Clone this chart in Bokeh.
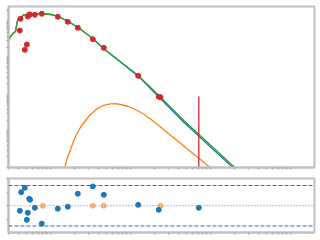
import numpy as np
from bokeh.plotting import figure
from bokeh.layouts import column
from bokeh.models import FixedTicker, Range1d, Span
from bokeh.embed import file_html
from bokeh.resources import INLINE

# ---- data ----
data_x = [0.413, 0.422, 0.477, 0.506, 0.520, 0.542, 0.551, 0.637, 0.778,
          1.234, 1.645, 2.195, 3.378, 4.637, 12.48, 22.58, 23.71]
data_y = [5636, 11860, 1679, 2344, 13710, 15280, 15560, 15280, 16250,
          13460, 9820, 6710, 3273, 1901, 325, 86.5, 84.3]

limit_x = [71.4]
limit_hi = [88.1]
limit_lo = [0.1]

total_x = [0.2985, 0.3162, 0.3476, 0.3652, 0.3758, 0.390, 0.430, 0.4637, 0.5355,
           0.750, 1.0, 1.234, 1.645, 2.195, 3.378, 4.637, 12.48, 22.58, 46.4,
           199.5, 316]
total_y = [3015, 3882, 4898, 5321, 7766, 11340, 13120, 15280, 15850,
           16560, 15560, 13960, 10190, 6980, 3420, 1786, 331.7, 93.9, 19.4,
           1.02, 0.40]

comp1_x = [0.2985, 0.3162, 0.3476, 0.3652, 0.3758, 0.390, 0.430, 0.4637, 0.5355,
           0.750, 1.0, 1.234, 1.645, 2.195, 3.378, 4.637, 12.48, 22.58, 46.4,
           199.5, 316]
comp1_y = [3015, 3882, 4898, 5321, 7766, 11340, 13120, 15280, 15850,
           16560, 15560, 13960, 10190, 6980, 3420, 1786, 318, 85.5, 17.3,
           0.90, 0.35]

comp2_x = [1.433, 1.509, 1.631, 1.778, 1.955, 2.143, 2.371, 2.738, 3.162,
           3.835, 4.597, 5.623, 6.494, 7.499, 9.441, 12.13, 14.54, 17.78,
           23.71, 31.62, 42.17, 55.1, 74.99, 98.0, 177.8]
comp2_y = [0.5, 1.02, 1.88, 3.11, 5.49, 8.54, 12.7, 19.4, 28.3,
           40.6, 50.0, 55.6, 56.0, 53.2, 46.9, 36.5, 29.2, 21.3,
           12.87, 7.67, 4.60, 2.83, 1.66, 1.02, 0.342]

res_x = [0.413, 0.430, 0.477, 0.506, 0.520, 0.542, 0.557, 0.637, 0.778,
         1.234, 1.645, 2.195, 3.378, 4.637, 12.48, 22.58, 71.4]
res_y = [-0.37, 1.01, 1.33, -1.04, -0.52, 0.52, 0.44, -0.15, -1.33,
         -0.22, -0.07, 0.89, 1.43, 0.81, 0.07, -0.30, -0.15]

res2_x = [0.801, 3.378, 4.637, 23.71]
res2_y = [0.0, 0.0, 0.0, 0.0]

band = 1.5

# ---- styling helpers ----
SPINE = "#c0c0c0"
TICK = "#a8a8a8"


def log_minor(lo_exp, hi_exp):
    return [m * 10.0 ** k for k in range(lo_exp, hi_exp + 1) for m in range(1, 10)]


def style(p):
    p.xgrid.visible = False
    p.ygrid.visible = False
    p.outline_line_color = SPINE
    p.outline_line_width = 2
    p.background_fill_color = "white"
    p.border_fill_color = "white"
    for ax in p.axis:
        ax.axis_line_color = SPINE
        ax.axis_line_width = 2
        ax.major_tick_line_color = TICK
        ax.minor_tick_line_color = TICK
        ax.minor_tick_line_width = 1.5
        ax.minor_tick_out = 2
        ax.minor_tick_in = 0
        ax.major_tick_out = 0
        ax.major_tick_in = 0
        ax.major_label_standoff = 0


x_range = Range1d(0.2985, 1995)

top = figure(width=320, height=173, x_axis_type="log", y_axis_type="log",
             x_range=x_range, y_range=Range1d(1, 25760),
             output_backend="svg", toolbar_location=None,
             min_border_left=8, min_border_right=6,
             min_border_top=6, min_border_bottom=6)
top.xaxis.ticker = FixedTicker(ticks=[], minor_ticks=log_minor(-1, 3))
top.yaxis.ticker = FixedTicker(ticks=[], minor_ticks=log_minor(0, 4))
style(top)

top.line(comp2_x, comp2_y, line_color="#ff7f0e", line_width=1.3)
top.line(comp1_x, comp1_y, line_color="#1f77b4", line_width=1.3)
top.line(total_x, total_y, line_color="#2ca02c", line_width=1.3)
top.segment(x0=limit_x, y0=limit_lo, x1=limit_x, y1=limit_hi,
            line_color="#d62728", line_width=1.3)
top.scatter(data_x, data_y, size=5, color="#d62728")

bot = figure(width=320, height=67, x_axis_type="log",
             x_range=x_range, y_range=Range1d(-1.98, 2.02),
             output_backend="svg", toolbar_location=None,
             min_border_left=8, min_border_right=6,
             min_border_top=5, min_border_bottom=8)
bot.xaxis.ticker = FixedTicker(ticks=[], minor_ticks=log_minor(-1, 3))
bot.yaxis.ticker = FixedTicker(ticks=[], minor_ticks=[-2, -1, 0, 1, 2])
style(bot)

for loc in (band, -band):
    bot.add_layout(Span(location=loc, dimension="width", line_color="#2f6fa8",
                        line_width=1.2, line_dash="4 2"))
bot.add_layout(Span(location=0, dimension="width", line_color="#1f77b4",
                    line_alpha=0.8, line_width=1.2, line_dash="1 2"))

bot.scatter(res2_x, res2_y, size=5, color="#ff7f0e", alpha=0.5)
bot.scatter(res_x, res_y, size=5, color="#1f77b4")

layout = column(top, bot, spacing=0)
open("out.html", "w").write(file_html(layout, INLINE))
